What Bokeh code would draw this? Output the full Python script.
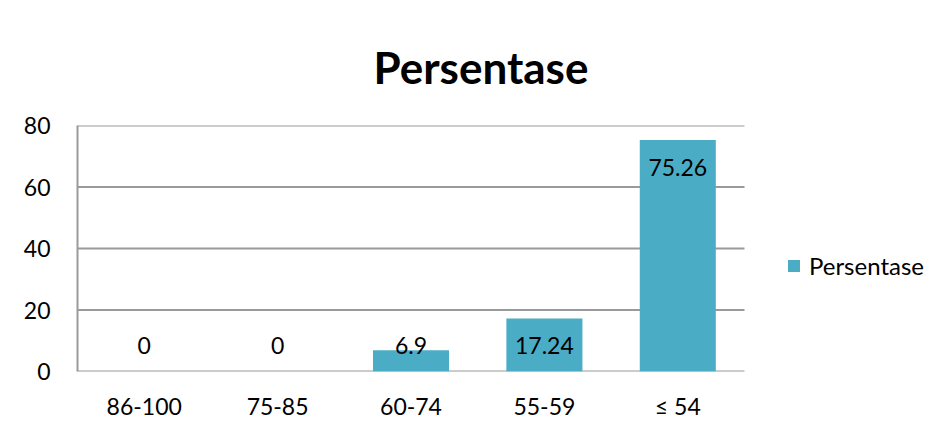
from bokeh.plotting import figure
from bokeh.models import ColumnDataSource, Range1d, FixedTicker, Legend, LegendItem
from bokeh.core.properties import value
from bokeh.embed import file_html
from bokeh.resources import INLINE

# ---- data ----
categories = ["86-100", "75-85", "60-74", "55-59", "\u2264 54"]
persentase = [0, 0, 6.9, 17.24, 75.26]
value_labels = ["0", "0", "6.9", "17.24", "75.26"]
y_ticks = [0, 20, 40, 60, 80]
series_name = "Persentase"
title_text = "Persentase"

FONT = "Lato"
BAR = "#4BACC6"
GRID = "#9a9a9a"

n = len(categories)
xpos = [i + 0.5 for i in range(n)]
# labels sit "inside end" of bars, clamped above the baseline
label_y = [max(v - 8.8, 8.5) for v in persentase]

src = ColumnDataSource(dict(x=xpos, val=persentase, lab=value_labels, ly=label_y))
grid_src = ColumnDataSource(dict(x0=[0] * len(y_ticks), x1=[n] * len(y_ticks),
                                 y=y_ticks))

# plot area widened to the right so the legend can sit inside it
p = figure(width=940, height=430,
           x_range=Range1d(0, n * 858 / 667), y_range=Range1d(0, 80),
           output_backend="svg", toolbar_location=None,
           min_border_left=77, min_border_right=5,
           min_border_top=125, min_border_bottom=59,
           title=title_text)

p.segment(x0="x0", x1="x1", y0="y", y1="y", source=grid_src,
          line_color=GRID, line_width=2)

bars = p.vbar(x="x", top="val", width=0.57, source=src,
              fill_color=BAR, line_color=None)

p.text(x="x", y="ly", text="lab", source=src,
       text_align="center", text_baseline="middle",
       text_font=value(FONT), text_font_size="23px", text_color="black")

p.title.text_font = FONT
p.title.text_font_size = "44px"
p.title.text_font_style = "bold"
p.title.align = "left"
p.title.offset = 296
p.title.standoff = 65
p.title.text_color = "black"

p.outline_line_color = None
p.background_fill_color = "white"
p.border_fill_color = "white"
p.xgrid.visible = False
p.ygrid.visible = False

p.yaxis.ticker = FixedTicker(ticks=y_ticks)
p.xaxis.ticker = FixedTicker(ticks=xpos)
p.xaxis.major_label_overrides = {x: c for x, c in zip(xpos, categories)}

for ax in (p.xaxis, p.yaxis):
    ax.axis_line_color = GRID
    ax.axis_line_width = 2
    ax.major_tick_line_color = None
    ax.minor_tick_line_color = None
    ax.major_label_text_font = FONT
    ax.major_label_text_font_size = "23px"
    ax.major_label_text_color = "black"
p.xaxis.axis_line_color = None
p.xaxis.major_label_standoff = 14
p.yaxis.major_label_standoff = 21

legend = Legend(items=[LegendItem(label=series_name, renderers=[bars])],
                location=(709, 91), glyph_width=15, glyph_height=15,
                label_standoff=8, padding=0, margin=0,
                border_line_color=None, background_fill_alpha=0,
                label_text_font=FONT, label_text_font_size="24px",
                label_text_color="black")
p.add_layout(legend)

open("out.html", "w").write(file_html(p, INLINE))
